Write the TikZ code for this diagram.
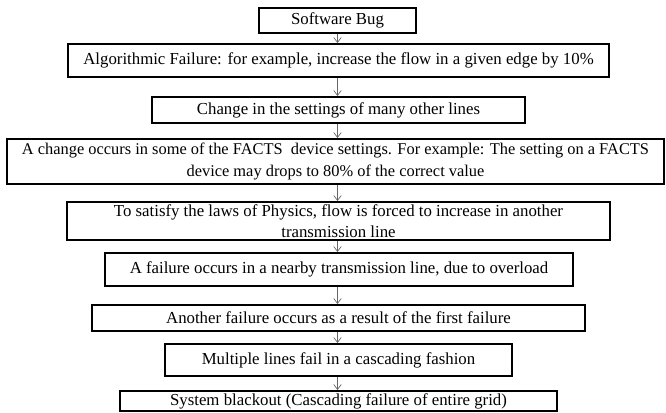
\documentclass[tikz,border=0pt]{standalone}
\usepackage{fontspec}
\setmainfont{Liberation Serif}
\usetikzlibrary{arrows.meta}
\begin{document}
\begin{tikzpicture}[x=1pt,y=-1pt,
  stepbox/.style={draw=black,line width=1.9pt,inner sep=0pt,align=center,
    font=\fontsize{16.8}{21.5}\selectfont},
  flowarrow/.style={draw=black!60,line width=0.7pt,-{Straight Barb[length=5pt,width=7.5pt,line width=0.7pt]}}]
\useasboundingbox (0,0) rectangle (666,412);
\node[stepbox,minimum width=157pt,minimum height=25pt] (b1) at (337.5,20.5) {Software Bug};
\node[stepbox,minimum width=541pt,minimum height=33pt] (b2) at (338.5,60.5) {Algorithmic Failure: for example, increase the flow in a given edge by 10\%};
\node[stepbox,minimum width=373pt,minimum height=26pt] (b3) at (338.5,110) {Change in the settings of many other lines};
\node[stepbox,minimum width=657pt,minimum height=45pt,font=\fontsize{16.4}{21.5}\selectfont] (b4) at (335.5,161.5) {A change occurs in some of the FACTS\ \ device settings. For example: The setting on a FACTS\\device may drops to 80\% of the correct value};
\node[stepbox,minimum width=543pt,minimum height=38pt] (b5) at (338.5,221) {To satisfy the laws of Physics, flow is forced to increase in another\\transmission line};
\node[stepbox,minimum width=468pt,minimum height=33pt] (b6) at (339,269.5) {A failure occurs in a nearby transmission line, due to overload};
\node[stepbox,minimum width=493pt,minimum height=26pt] (b7) at (338.5,318) {Another failure occurs as a result of the first failure};
\node[stepbox,minimum width=347pt,minimum height=32pt] (b8) at (338.5,360) {Multiple lines fail in a cascading fashion};
\node[stepbox,minimum width=437pt,minimum height=20pt] (b9) at (338.5,401) {System blackout (Cascading failure of entire grid)};
\foreach \a/\b in {b1/b2,b2/b3,b3/b4,b4/b5,b5/b6,b6/b7,b7/b8,b8/b9}
  \draw[flowarrow] (\a.south -| b1.south) -- (\b.north -| b1.south);
\end{tikzpicture}
\end{document}
